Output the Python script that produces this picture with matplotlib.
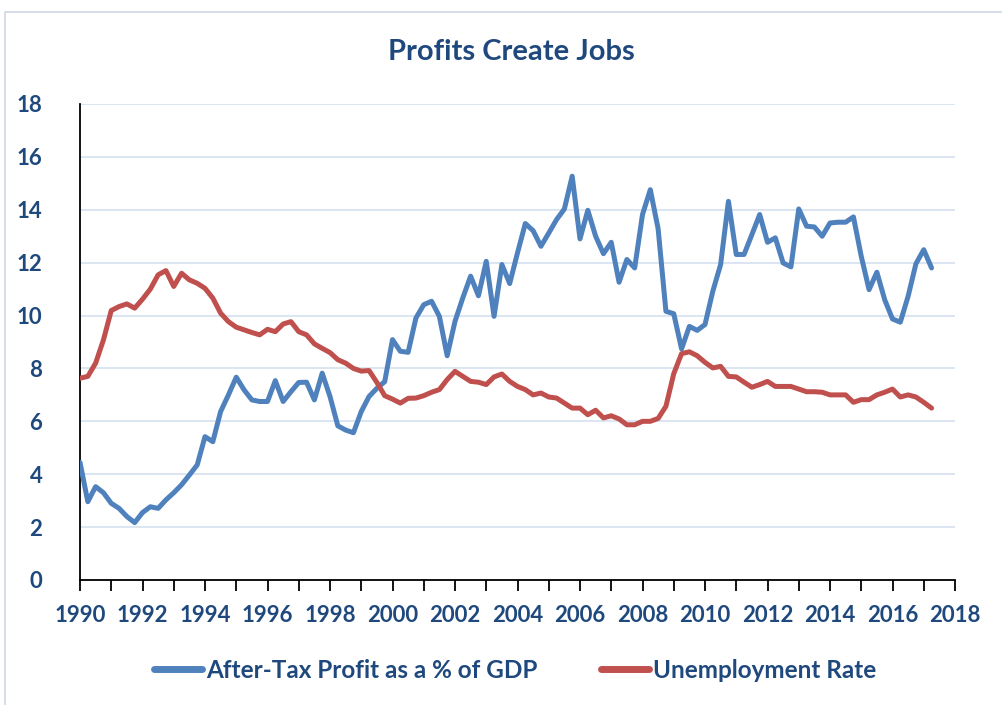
import matplotlib
matplotlib.use("Agg")
import matplotlib.pyplot as plt
import numpy as np
from matplotlib.patches import Rectangle
from matplotlib.ticker import MultipleLocator

# ---- data (quarterly, 1990Q1 .. 2017Q2) ----
start_year = 1990.0
profit = [4.45, 2.96, 3.53, 3.3, 2.9, 2.71, 2.4, 2.17, 2.55, 2.77,
          2.71, 3.03, 3.3, 3.6, 3.97, 4.35, 5.42, 5.23, 6.37, 7.0,
          7.67, 7.19, 6.81, 6.75, 6.75, 7.54, 6.75, 7.12, 7.47, 7.48,
          6.81, 7.82, 6.94, 5.83, 5.67, 5.57, 6.37, 6.94, 7.25, 7.5,
          9.09, 8.65, 8.61, 9.91, 10.41, 10.54, 9.97, 8.48, 9.78, 10.67,
          11.49, 10.75, 12.05, 9.97, 11.93, 11.21, 12.37, 13.48, 13.21, 12.62,
          13.12, 13.63, 14.03, 15.27, 12.9, 13.98, 13.0, 12.34, 12.77, 11.26,
          12.12, 11.8, 13.82, 14.76, 13.28, 10.16, 10.07, 8.74, 9.59, 9.44,
          9.66, 10.92, 11.93, 14.32, 12.31, 12.31, 13.06, 13.82, 12.77, 12.94,
          11.99, 11.84, 14.03, 13.38, 13.35, 13.0, 13.5, 13.53, 13.53, 13.73,
          12.24, 10.98, 11.64, 10.6, 9.87, 9.75, 10.73, 11.96, 12.49, 11.8]
unemployment = [7.63, 7.7, 8.2, 9.08, 10.19, 10.34, 10.44, 10.28, 10.62, 11.0,
                11.54, 11.7, 11.1, 11.6, 11.35, 11.22, 11.03, 10.66, 10.09, 9.77,
                9.56, 9.46, 9.36, 9.27, 9.48, 9.39, 9.68, 9.77, 9.39, 9.27,
                8.93, 8.76, 8.6, 8.33, 8.2, 8.0, 7.9, 7.92, 7.47, 6.97,
                6.84, 6.69, 6.87, 6.88, 6.97, 7.1, 7.2, 7.58, 7.89, 7.7,
                7.51, 7.48, 7.39, 7.68, 7.79, 7.51, 7.32, 7.2, 7.0, 7.07,
                6.92, 6.88, 6.69, 6.5, 6.5, 6.25, 6.42, 6.13, 6.21, 6.09,
                5.87, 5.87, 6.0, 6.0, 6.11, 6.57, 7.8, 8.56, 8.63, 8.48,
                8.23, 8.02, 8.08, 7.7, 7.68, 7.48, 7.29, 7.39, 7.51, 7.32,
                7.32, 7.32, 7.22, 7.12, 7.12, 7.1, 7.0, 7.0, 7.0, 6.72,
                6.82, 6.82, 7.0, 7.1, 7.22, 6.92, 7.0, 6.92, 6.72, 6.5]
years = start_year + 0.25 * np.arange(len(profit))

title = "Profits Create Jobs"
series_labels = ["After-Tax Profit as a % of GDP", "Unemployment Rate"]
x_ticks = list(range(1990, 2019, 2))
y_ticks = list(range(0, 19, 2))

# ---- style ----
BLUE = "#4F81BD"
RED = "#C0504D"
TEXT = "#1F497D"
GRID = "#D9E4F1"
FONT = ["Lato", "DejaVu Sans"]

plt.rcParams["font.family"] = FONT
plt.rcParams["font.weight"] = "bold"

W, H = 1002, 705
fig = plt.figure(figsize=(W / 100, H / 100), dpi=100)

# chart border
fig.patches.append(Rectangle((5 / W, -0.05), 1.1, (H - 12) / H + 0.05,
                             transform=fig.transFigure, fill=False,
                             edgecolor="#D0D8E4", linewidth=1.2))

ax = fig.add_axes([80 / W, (H - 580) / H, (955 - 80) / W, (580 - 104) / H])

l1, = ax.plot(years, profit, color=BLUE, lw=3.6, solid_joinstyle="round",
              solid_capstyle="round", zorder=3)
l2, = ax.plot(years, unemployment, color=RED, lw=3.6, solid_joinstyle="round",
              solid_capstyle="round", zorder=3)

ax.set_xlim(1990, 2018)
ax.set_ylim(0, 18)
ax.set_xticks(x_ticks)
ax.xaxis.set_minor_locator(MultipleLocator(1))
ax.set_yticks(y_ticks)
ax.yaxis.grid(True, color=GRID, lw=1.3)
ax.set_axisbelow(True)
for s in ["top", "right"]:
    ax.spines[s].set_visible(False)
for s in ["left", "bottom"]:
    ax.spines[s].set_color("black")
    ax.spines[s].set_linewidth(1.3)

ax.tick_params(axis="x", which="both", direction="out", length=8, width=1.3,
               color="black", labelsize=16, labelcolor=TEXT, pad=10)
ax.tick_params(axis="y", length=0, labelsize=16, labelcolor=TEXT, pad=27)
for lab in ax.get_xticklabels() + ax.get_yticklabels():
    lab.set_fontweight("bold")

fig.text(511 / W, 1 - 52 / H, title, ha="center", va="center",
         fontsize=21, fontweight="bold", color=TEXT)

leg = fig.legend([l1, l2], series_labels, loc="center",
                 bbox_to_anchor=(515 / W, 1 - 670 / H), ncol=2, frameon=False,
                 handlelength=2.0, handletextpad=0.15, columnspacing=2.6,
                 prop={"size": 17.5, "weight": "bold"})
for t in leg.get_texts():
    t.set_color(TEXT)
for h in leg.get_lines():
    h.set_linewidth(5)

fig.savefig("out.png", dpi=100)
